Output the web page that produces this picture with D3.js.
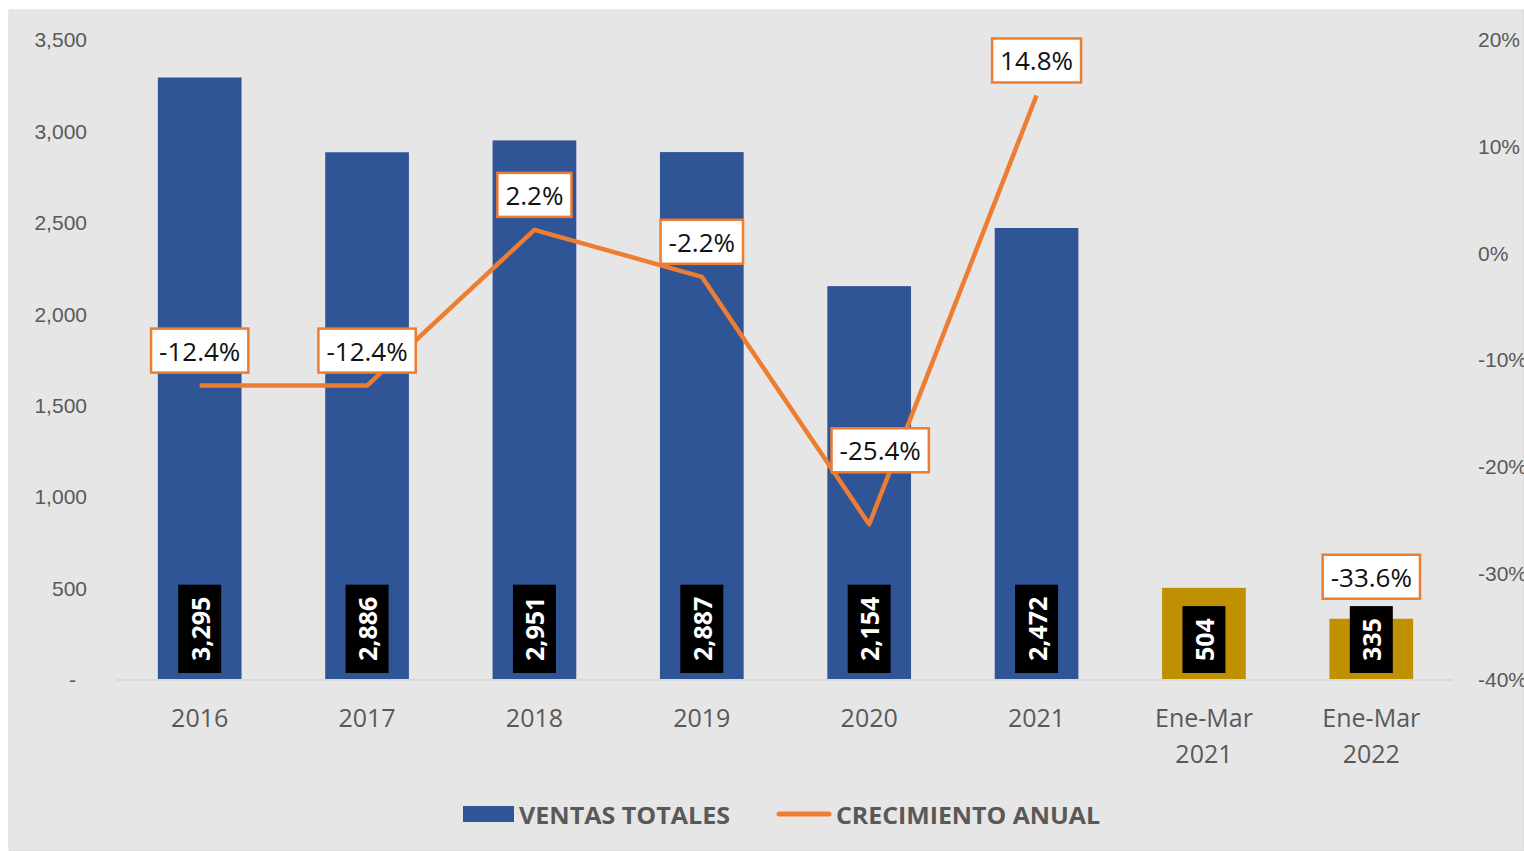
<!DOCTYPE html>
<html>
<head>
<meta charset="utf-8">
<script src="https://cdn.jsdelivr.net/npm/d3@7"></script>
<style>
  body { margin: 0; background: #fff; }
  svg { display: block; font-family: "Open Sans", "Noto Sans", sans-serif; }
</style>
</head>
<body>
<svg id="chart" width="1524" height="851"></svg>
<script>
// categories and values
var categories = ["2016", "2017", "2018", "2019", "2020", "2021", "Ene-Mar 2021", "Ene-Mar 2022"];
var ventas = [3295, 2886, 2951, 2887, 2154, 2472, 504, 335];
var crecimiento = [-12.4, -12.4, 2.2, -2.2, -25.4, 14.8, null, -33.6];
var leftTicks = [0, 500, 1000, 1500, 2000, 2500, 3000, 3500];
var rightTicks = [-40, -30, -20, -10, 0, 10, 20];

var W = 1524, H = 851
var margin = {top: 40, bottom: 171, left: 116, right: 69}
var blue = "#2F5597", gold = "#BF9000", orange = "#ED7D31", grey = "#595959"

const svg = d3.select("#chart")

// chart area background
svg.append("rect")
    .attr("x", 9).attr("y", 10)
    .attr("width", W - 9).attr("height", H - 10)
    .attr("fill", "#e7e6e6")
    .attr("stroke", "#d9d9d9")

var x = d3.scaleBand()
    .domain(categories)
    .range([margin.left, W - margin.right])
    .paddingInner(0.5)
    .paddingOuter(0.25)

var y = d3.scaleLinear().domain([0, 3500]).range([H - margin.bottom, margin.top])
var yR = d3.scaleLinear().domain([-40, 20]).range([H - margin.bottom, margin.top])

// left axis
var gl = svg.append("g")
    .attr("transform", "translate(87,0)")
    .call(d3.axisLeft(y).tickValues(leftTicks).tickSize(0).tickPadding(0)
        .tickFormat(d => d == 0 ? "-" : d3.format(",")(d)))
gl.select(".domain").remove()
gl.selectAll("text")
    .attr("font-size", 21)
    .attr("font-family", null)
    .attr("fill", grey)
    .attr("dx", d => d == 0 ? -11 : 0)

// right axis (cut at the right edge as in the original)
var gr = svg.append("g")
    .attr("transform", "translate(1478,0)")
    .call(d3.axisRight(yR).tickValues(rightTicks).tickSize(0).tickPadding(0)
        .tickFormat(d => d + "%"))
gr.select(".domain").remove()
gr.selectAll("text")
    .attr("font-size", 21)
    .attr("font-family", null)
    .attr("fill", grey)

// bars
svg.append("g")
    .selectAll("rect")
    .data(categories)
    .join("rect")
    .attr("x", d => x(d))
    .attr("width", x.bandwidth())
    .attr("y", (d, i) => y(ventas[i]))
    .attr("height", (d, i) => y(0) - y(ventas[i]))
    .attr("fill", d => d.startsWith("Ene-Mar") ? gold : blue)

// baseline
svg.append("line")
    .attr("x1", margin.left).attr("x2", W - margin.right - 2)
    .attr("y1", y(0)).attr("y2", y(0))
    .attr("stroke", "#d9d9d9")
    .attr("stroke-width", 2)

// category labels
var xl = svg.append("g")
    .selectAll("text")
    .data(categories)
    .join("text")
    .attr("x", d => x(d) + x.bandwidth() / 2)
    .attr("y", 727)
    .attr("text-anchor", "middle")
    .attr("font-size", 25)
    .attr("fill", grey)
xl.selectAll("tspan")
    .data(d => d.split(" "))
    .join("tspan")
    .attr("x", function() { return d3.select(this.parentNode).attr("x") })
    .attr("dy", (d, i) => i == 0 ? 0 : 36)
    .text(d => d)

// value labels inside bars (black boxes, rotated white text)
var vl = svg.append("g")
    .selectAll("g")
    .data(categories)
    .join("g")
vl.each(function(d, i) {
    var g = d3.select(this)
    var cx = x(d) + x.bandwidth() / 2
    var bottom = y(0) - 7
    var t = g.append("text")
        .text(d3.format(",")(ventas[i]))
        .attr("font-size", 25)
        .attr("font-weight", "bold")
        .attr("fill", "#fff")
        .attr("text-anchor", "middle")
        .attr("dominant-baseline", "central")
    var len = t.node().getComputedTextLength()
    var h = len + 24
    g.insert("rect", "text")
        .attr("x", cx - 21.5)
        .attr("y", bottom - h)
        .attr("width", 43)
        .attr("height", h)
        .attr("fill", "#000")
    t.attr("transform", `translate(${cx},${bottom - h / 2}) rotate(-90)`)
})

// growth line (Ene-Mar 2022 stands alone, only its label is shown)
var line = d3.line()
    .defined(d => d != null)
    .x((d, i) => x(categories[i]) + x.bandwidth() / 2)
    .y(d => yR(d))

svg.append("path")
    .datum(crecimiento)
    .attr("d", line)
    .attr("fill", "none")
    .attr("stroke", orange)
    .attr("stroke-width", 4.5)
    .attr("stroke-linejoin", "round")
    .attr("stroke-linecap", "butt")

// growth labels
var labelNudge = {"2020": {dx: 11, lift: 74}}
var gLab = svg.append("g")
crecimiento.forEach((v, i) => {
    if (v == null) return
    var cat = categories[i]
    var nudge = labelNudge[cat] || {dx: 0, lift: 35}
    var cx = x(cat) + x.bandwidth() / 2 + nudge.dx
    var cy = yR(v) - nudge.lift
    var g = gLab.append("g")
    var t = g.append("text")
        .text(v.toFixed(1) + "%")
        .attr("x", cx).attr("y", cy)
        .attr("font-size", 26)
        .attr("fill", "#111")
        .attr("text-anchor", "middle")
        .attr("dominant-baseline", "central")
    var w = t.node().getComputedTextLength() + 16
    g.insert("rect", "text")
        .attr("x", cx - w / 2).attr("y", cy - 22)
        .attr("width", w).attr("height", 44)
        .attr("fill", "#fff")
        .attr("stroke", orange)
        .attr("stroke-width", 2.5)
})

// legend
var lg = svg.append("g")
lg.append("rect")
    .attr("x", 463).attr("y", 806)
    .attr("width", 51).attr("height", 16)
    .attr("fill", blue)
lg.append("text")
    .attr("x", 519).attr("y", 814)
    .attr("dominant-baseline", "central")
    .attr("font-size", 24)
    .attr("font-weight", "bold")
    .attr("fill", grey)
    .attr("textLength", 211)
    .attr("lengthAdjust", "spacingAndGlyphs")
    .text("VENTAS TOTALES")
lg.append("line")
    .attr("x1", 779).attr("x2", 829)
    .attr("y1", 814).attr("y2", 814)
    .attr("stroke", orange)
    .attr("stroke-width", 5)
    .attr("stroke-linecap", "round")
lg.append("text")
    .attr("x", 836).attr("y", 814)
    .attr("dominant-baseline", "central")
    .attr("font-size", 24)
    .attr("font-weight", "bold")
    .attr("fill", grey)
    .attr("textLength", 264)
    .attr("lengthAdjust", "spacingAndGlyphs")
    .text("CRECIMIENTO ANUAL")
</script>
</body>
</html>
